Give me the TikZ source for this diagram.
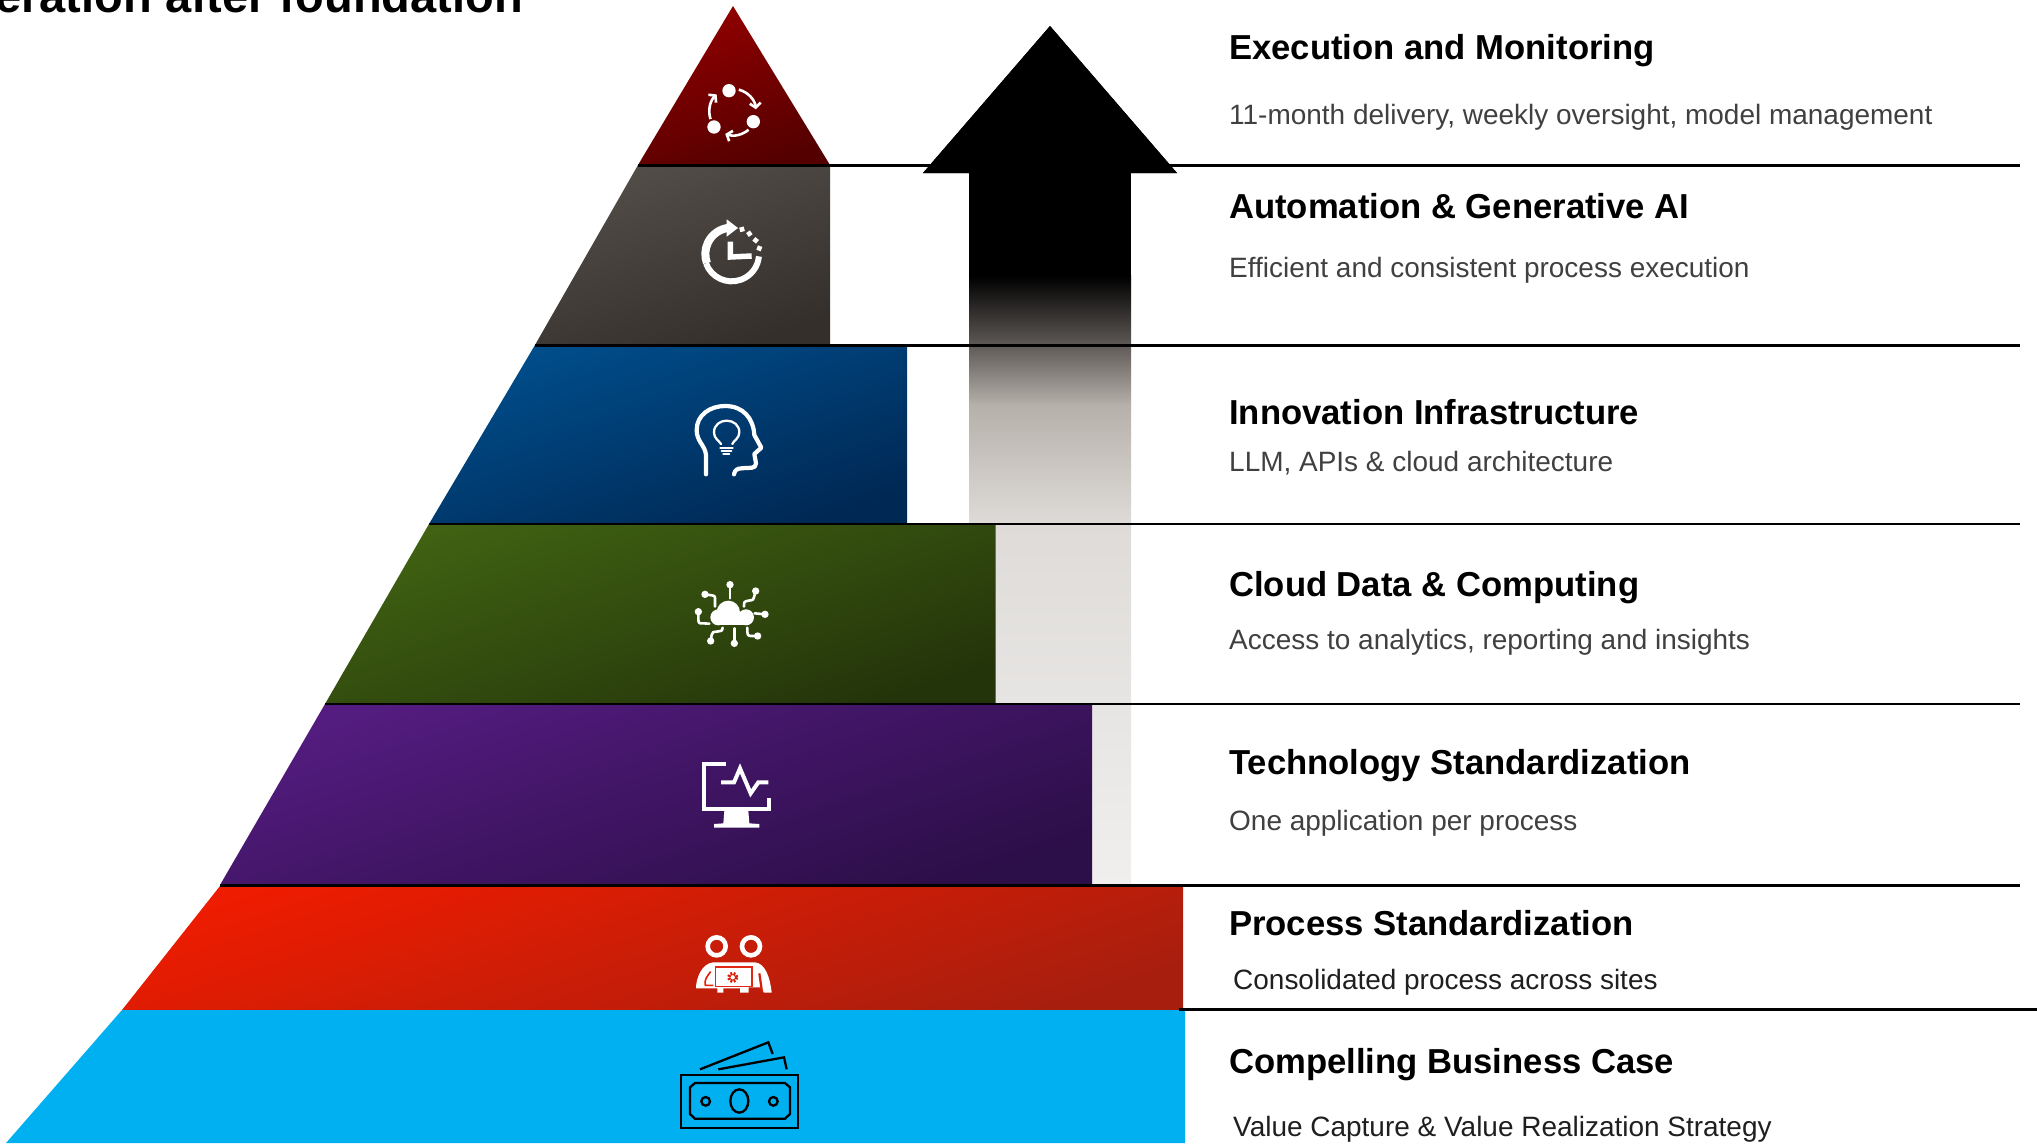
\documentclass[tikz,border=0pt]{standalone}
\usepackage{fontspec}
\setmainfont{Liberation Sans}
\usetikzlibrary{arrows.meta}
\definecolor{desctext}{HTML}{404040}
\tikzset{
  headtxt/.style={anchor=base west,inner sep=0pt,font=\bfseries\fontsize{34.65}{38}\selectfont,text=black},
  desctxt/.style={anchor=base west,inner sep=0pt,font=\fontsize{27.97}{32}\selectfont,text=desctext},
  desctxtb/.style={desctxt,text=black!88},
  rule/.style={draw=black,line width=2.6pt},
  level/.style={shading angle=18},
  zoomA/.style={shift={(620pt,0pt)},x=.33333pt,y=-.33333pt},
  zoomB/.style={shift={(660pt,-380pt)},x=.33333pt,y=-.33333pt},
  zoomC/.style={shift={(660pt,-740pt)},x=.33333pt,y=-.33333pt},
  wline/.style={draw=white,line cap=round,line join=round},
  cycarrow/.style={draw=white,line width=2.6pt,-{Straight Barb[length=4.5pt,width=11pt]}},
}
\begin{document}
\begin{tikzpicture}[x=1pt,y=-1pt]
\useasboundingbox (0,0) rectangle (2037,1146);
\clip (0,0) rectangle (2037,1146);
% title fragment
\node[anchor=base east,inner sep=0pt,font=\bfseries\fontsize{47}{52}\selectfont] (title) at (523,12.5) {eration after foundation};
% arrow
\fill[black] (1050,26) -- (1177,173) -- (923,173) -- cycle;
\fill[black] (969,172) rectangle (1131,276);
\shade[top color=black,bottom color={rgb,255:red,94;green,89;blue,86}] (969,275.5) rectangle (1131,345);
\shade[top color={rgb,255:red,94;green,89;blue,86},bottom color={rgb,255:red,182;green,176;blue,170}] (969,344.5) rectangle (1131,405);
\shade[top color={rgb,255:red,182;green,176;blue,170},bottom color={rgb,255:red,222;green,219;blue,216}] (969,404.5) rectangle (1131,524);
\shade[top color={rgb,255:red,222;green,219;blue,216},bottom color={rgb,255:red,240;green,239;blue,238}] (969,523.5) rectangle (1131,885);
% pyramid levels
\shade[top color={rgb,255:red,146;green,0;blue,0},bottom color={rgb,255:red,84;green,0;blue,0},level] (733,6) -- (830,165) -- (638,165) -- cycle;
\shade[top color={rgb,255:red,84;green,78;blue,73},bottom color={rgb,255:red,52;green,47;blue,43},level] (638,165) -- (830,165) -- (830,345) -- (535,345) -- cycle;
\shade[top color={rgb,255:red,0;green,78;blue,140},bottom color={rgb,255:red,0;green,40;blue,84},level] (535,345) -- (907,345) -- (907,524) -- (429,524) -- cycle;
\shade[top color={rgb,255:red,64;green,98;blue,18},bottom color={rgb,255:red,36;green,52;blue,10},level] (429,524) -- (995.5,524) -- (995.5,704) -- (325,704) -- cycle;
\shade[top color={rgb,255:red,84;green,28;blue,128},bottom color={rgb,255:red,44;green,14;blue,72},level] (325,704) -- (1092,704) -- (1092,885) -- (220,885) -- cycle;
\shade[top color={rgb,255:red,238;green,28;blue,0},bottom color={rgb,255:red,168;green,30;blue,14},level] (220,886) -- (1183,886) -- (1183,1010) -- (122,1010) -- cycle;
\fill[fill={rgb,255:red,0;green,176;blue,240}] (122,1010) -- (1185,1010) -- (1185,1143) -- (6,1143) -- cycle;
% rules
\coordinate (r1a) at (638,165.5); \coordinate (r1b) at (2020,165.5);
\coordinate (r2a) at (535,345.5); \coordinate (r2b) at (2020,345.5);
\coordinate (r3a) at (429,524); \coordinate (r3b) at (2020,524);
\coordinate (r4a) at (325,704); \coordinate (r4b) at (2020,704);
\coordinate (r5a) at (220,885.5); \coordinate (r5b) at (2020,885.5);
\coordinate (r6a) at (1179,1009.5); \coordinate (r6b) at (2037,1009.5);
\draw[rule] (r1a) -- (r1b);
\draw[rule] (r2a) -- (r2b);
\draw[rule] (r3a) -- (r3b);
\draw[rule] (r4a) -- (r4b);
\draw[rule] (r5a) -- (r5b);
\draw[rule] (r6a) -- (r6b);
% arrow head lies over the first rule
\fill[black] (1050,26) -- (1177,173) -- (923,173) -- cycle;
% text
\node[headtxt] (h1) at (1229,59) {Execution and Monitoring};
\node[desctxt] (d1) at (1229,124) {11-month delivery, weekly oversight, model management};
\node[headtxt] (h2) at (1229,218) {Automation \& Generative AI};
\node[desctxt] (d2) at (1229,277) {Efficient and consistent process execution};
\node[headtxt] (h3) at (1229,424) {Innovation Infrastructure};
\node[desctxt] (d3) at (1229,471) {LLM, APIs \& cloud architecture};
\node[headtxt] (h4) at (1229,596) {Cloud Data \& Computing};
\node[desctxt] (d4) at (1229,649) {Access to analytics, reporting and insights};
\node[headtxt] (h5) at (1229,774) {Technology Standardization};
\node[desctxt] (d5) at (1229,830) {One application per process};
\node[headtxt] (h6) at (1229,935) {Process Standardization};
\node[desctxtb] (d6) at (1233,989) {Consolidated process across sites};
\node[headtxt] (h7) at (1229,1073) {Compelling Business Case};
\node[desctxtb] (d7) at (1233,1136) {Value Capture \& Value Realization Strategy};
% icon 1: cycle
\begin{scope}[zoomA]
\fill[white] (327,272) circle (20) (400,365) circle (20) (282,381) circle (20);
\draw[cycarrow] (340,335) ++(-76:68) arc[start angle=-76,end angle=-6,radius=68];
\draw[cycarrow] (340,335) ++(50:71) arc[start angle=50,end angle=110,radius=71];
\draw[cycarrow] (340,335) ++(162:72) arc[start angle=162,end angle=226,radius=72];
\end{scope}
% icon 2: clock
\begin{scope}[zoomA]
\draw[white,line width=8pt] (335,762) ++(-95:79) arc[start angle=-95,end angle=-200,radius=79];
\draw[white,line width=6pt] (335,762) ++(-200:82) arc[start angle=-200,end angle=-355,radius=82];
\fill[white] (320,658) -- (354,684) -- (320,710) -- cycle;
\fill[white,rotate around={15:(366,688)}] (359,681) rectangle (373,695);
\fill[white,rotate around={35:(388,701)}] (381,694) rectangle (395,708);
\fill[white,rotate around={50:(407,721)}] (400,714) rectangle (414,728);
\fill[white,rotate around={70:(418,745)}] (411,738) rectangle (425,752);
\draw[white,line width=5.5pt,line join=miter] (331,725) -- (331,771) -- (395,768);
\end{scope}
% icon 3: head with bulb
\begin{scope}[zoomB]
\draw[wline,line width=4.2pt] (138,283) -- (138,225) .. controls (135,195) and (110,185) .. (110,150) .. controls (110,105) and (150,78) .. (195,78) .. controls (250,78) and (280,115) .. (283,165) -- (304,203) -- (283,222) -- (288,250) .. controls (288,268) and (270,262) .. (245,265) .. controls (230,265) and (224,272) .. (222,283);
\draw[wline,line width=2.3pt] (183,192) .. controls (175,180) and (162,175) .. (162,157) .. controls (162,135) and (180,122) .. (200,122) .. controls (220,122) and (238,135) .. (238,157) .. controls (238,175) and (222,180) .. (217,192);
\draw[wline,line width=2.3pt] (181,204) -- (218,204) (185,213) -- (214,213) (190,221) -- (208,221);
\end{scope}
% icon 4: cloud
\begin{scope}[zoomB]
\fill[white] (205,697) circle (35);
\fill[white] (175,712) circle (24);
\fill[white] (258,712) circle (24);
\fill[white] (175,700) rectangle (258,736);
\fill[white] (210,614) circle (11) (135,643) circle (11) (287,633) circle (11) (115,695) circle (11) (315,703) circle (11) (152,783) circle (11) (223,790) circle (11) (293,768) circle (11);
\draw[wline,line width=2.6pt] (210,614) -- (210,655);
\draw[wline,line width=2.6pt] (135,643) -- (155,646) .. controls (165,648) .. (165,660) -- (165,680);
\draw[wline,line width=2.6pt] (287,633) -- (282,652) .. controls (280,660) .. (265,662) .. controls (252,665) .. (252,680);
\draw[wline,line width=2.6pt] (115,695) -- (115,718) .. controls (116,730) .. (128,730) -- (148,731);
\draw[wline,line width=2.6pt] (315,703) -- (284,700);
\draw[wline,line width=2.6pt] (152,783) -- (155,765) .. controls (158,756) .. (170,755) .. controls (188,752) .. (188,743);
\draw[wline,line width=2.6pt] (223,790) -- (223,745);
\draw[wline,line width=2.6pt] (293,768) -- (272,768) .. controls (262,766) .. (262,743);
\end{scope}
% icon 5: monitor
\begin{scope}[zoomC]
\draw[white,line width=4.2pt] (198,72) -- (131,72) -- (131,208) -- (327,208) -- (327,174);
\fill[white] (193,212) -- (265,212) -- (268,250) -- (298,252) -- (298,263) -- (162,263) -- (162,252) -- (190,250) -- cycle;
\draw[white,line width=4pt,line join=miter] (183,127) -- (222,127) -- (240,85) -- (272,160) -- (295,127) -- (325,127);
\end{scope}
% icon 6: people with laptop
\begin{scope}[zoomC]
\draw[white,line width=4.6pt] (170,619) circle (27) (273,619) circle (27);
\fill[white] (108,745) .. controls (108,715) and (125,670) .. (160,667) -- (285,667) .. controls (315,670) and (330,710) .. (335,758) -- (312,758) -- (302,742) -- (266,742) -- (266,758) -- (240,758) -- (240,745) -- (190,745) -- (190,758) -- (172,758) -- (172,745) -- cycle;
\draw[draw={rgb,255:red,226;green,40;blue,20},line width=1.5pt] (166,681) rectangle (276,740);
\draw[draw={rgb,255:red,226;green,32;blue,8},line width=1.6pt] (152,695) .. controls (140,710) and (132,722) .. (136,736) -- (160,736);
\draw[draw={rgb,255:red,214;green,30;blue,8},line width=2.2pt] (298,700) -- (306,756);
\draw[draw={rgb,255:red,218;green,30;blue,8},line width=3.4pt,dash pattern=on 2pt off 1.2pt] (218,712) circle (12);
\fill[white] (218,712) circle (6);
\end{scope}
% icon 7: money
\begin{scope}[zoomC]
\draw[black,line width=2.3pt] (64,1005) rectangle (413,1163);
\draw[black,line width=2.3pt] (105,1029) -- (375,1029) -- (390,1042) -- (390,1122) -- (375,1136) -- (105,1136) -- (90,1122) -- (90,1042) -- cycle;
\draw[black,line width=2.3pt] (238,1083) ellipse (27 and 35);
\draw[black,line width=2.3pt] (137,1084) circle (13) (340,1084) circle (13);
\draw[black,line width=2.3pt] (120,988) -- (325,907) -- (338,942);
\draw[black,line width=2.3pt] (175,988) -- (372,952) -- (380,988);
\end{scope}
\end{tikzpicture}
\end{document}
